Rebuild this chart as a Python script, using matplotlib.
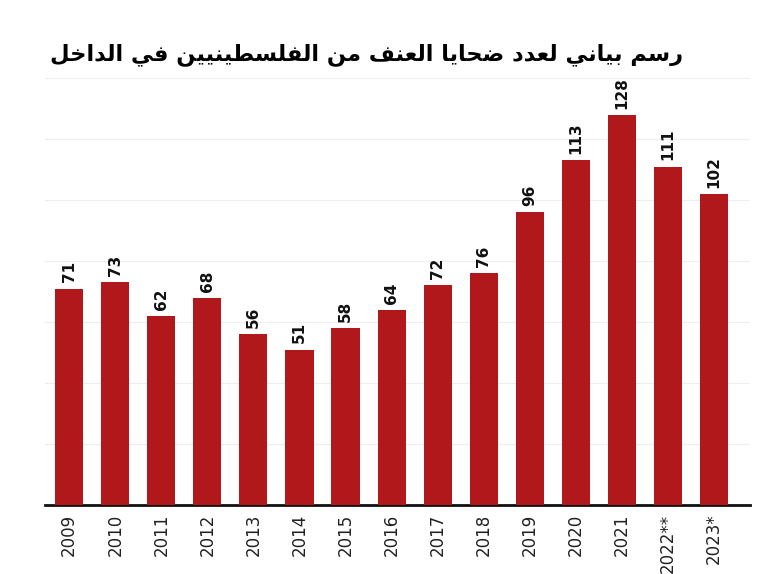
import matplotlib
matplotlib.use("Agg")
import matplotlib.pyplot as plt
import numpy as np

years = ["2009", "2010", "2011", "2012", "2013", "2014", "2015", "2016",
         "2017", "2018", "2019", "2020", "2021", "2022**", "2023*"]
victims = [71, 73, 62, 68, 56, 51, 58, 64, 72, 76, 96, 113, 128, 111, 102]
title = "رسم بياني لعدد ضحايا العنف من الفلسطينيين في الداخل"

# minimal arabic shaping: (isolated, final, initial, medial)
forms = {
    "ا": (0xFE8D, 0xFE8E, None, None),
    "ب": (0xFE8F, 0xFE90, 0xFE91, 0xFE92),
    "ح": (0xFEA1, 0xFEA2, 0xFEA3, 0xFEA4),
    "خ": (0xFEA5, 0xFEA6, 0xFEA7, 0xFEA8),
    "د": (0xFEA9, 0xFEAA, None, None),
    "ر": (0xFEAD, 0xFEAE, None, None),
    "س": (0xFEB1, 0xFEB2, 0xFEB3, 0xFEB4),
    "ض": (0xFEBD, 0xFEBE, 0xFEBF, 0xFEC0),
    "ط": (0xFEC1, 0xFEC2, 0xFEC3, 0xFEC4),
    "ع": (0xFEC9, 0xFECA, 0xFECB, 0xFECC),
    "ف": (0xFED1, 0xFED2, 0xFED3, 0xFED4),
    "ل": (0xFEDD, 0xFEDE, 0xFEDF, 0xFEE0),
    "م": (0xFEE1, 0xFEE2, 0xFEE3, 0xFEE4),
    "ن": (0xFEE5, 0xFEE6, 0xFEE7, 0xFEE8),
    "ي": (0xFEF1, 0xFEF2, 0xFEF3, 0xFEF4),
}


def joins_next(c):
    return c in forms and forms[c][2] is not None


def shape(text):
    out = []
    for i, c in enumerate(text):
        if c not in forms:
            out.append(c)
            continue
        prev = text[i - 1] if i > 0 else " "
        nxt = text[i + 1] if i + 1 < len(text) else " "
        jp = joins_next(prev)
        jn = joins_next(c) and nxt in forms
        iso, fin, ini, med = forms[c]
        if jp and jn:
            out.append(chr(med))
        elif jp:
            out.append(chr(fin))
        elif jn:
            out.append(chr(ini))
        else:
            out.append(chr(iso))
    return "".join(out)[::-1]


fig = plt.figure(figsize=(7.81, 5.74), dpi=100)
ax = fig.add_axes([0.058, 0.12, 0.902, 0.744])

x = np.arange(len(years))
ax.bar(x, victims, width=0.61, color="#b0181c", zorder=3)
for xi, v in zip(x, victims):
    ax.text(xi, v + 2, str(v), rotation=90, ha="center", va="bottom",
            fontsize=11, fontweight="bold", color="#111111")

ax.set_xlim(-0.52, 14.78)
ax.set_ylim(0, 140)
ax.set_yticks(np.arange(20, 141, 20))
ax.yaxis.grid(True, color="#eeeeee", linewidth=0.8, zorder=0)
ax.tick_params(axis="y", left=False, labelleft=False)
ax.tick_params(axis="x", length=0, pad=6)
ax.set_xticks(x)
ax.set_xticklabels(years, rotation=90, fontsize=12, color="#222222")
for side in ["top", "right", "left"]:
    ax.spines[side].set_visible(False)
ax.spines["bottom"].set_linewidth(2)
ax.spines["bottom"].set_color("#111111")

fig.text(0.064, 0.905, shape(title), fontsize=16.2, fontweight="bold",
         family="DejaVu Sans", ha="left", va="center")

fig.savefig("out.png", dpi=100)
